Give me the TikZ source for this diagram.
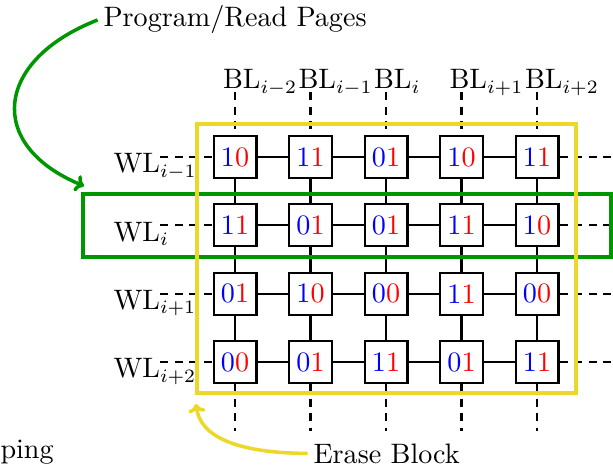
\documentclass[tikz,border=0pt]{standalone}
\usetikzlibrary{arrows.meta}
\definecolor{blockyellow}{RGB}{236,216,40}
\definecolor{pagegreen}{RGB}{0,150,0}
\tikzset{
  cell/.style={draw, line width=0.75pt, minimum width=15.9pt, minimum height=15.5pt, inner sep=0pt, fill=white},
  wire/.style={line width=0.75pt},
  dwire/.style={line width=0.75pt, dash pattern=on 3pt off 2.4pt},
  lbl/.style={inner sep=0pt, anchor=base west},
  frame/.style={line width=1.2pt},
  pointer/.style={line width=1.3pt, -{To[length=3.2pt,width=6.4pt]}},
}
\begin{document}
\begin{tikzpicture}[x=0.37pt,y=-0.37pt, font=\fontsize{10.4}{12.5}\selectfont]
\useasboundingbox (0,0) rectangle (613,467);

% memory cells: first bit blue, second bit red
\foreach \row [count=\r] in {
  {1/0,1/1,0/1,1/0,1/1},
  {1/1,0/1,0/1,1/1,1/0},
  {0/1,1/0,0/0,1/1,0/0},
  {0/0,0/1,1/1,0/1,1/1}} {
  \foreach \a/\b [count=\c] in \row {
    \pgfmathsetmacro{\px}{235+75.5*(\c-1)}
    \pgfmathsetmacro{\py}{157+68.33*(\r-1)}
    \node[cell] (c\r\c) at (\px,\py) {\textcolor{blue}{\a}\textcolor{red}{\b}};
  }
}

% solid word-line and bit-line links between cells
\foreach \r in {1,...,4} {
  \foreach \c [evaluate=\c as \n using int(\c+1)] in {1,...,4} {
    \draw[wire] (c\r\c) -- (c\r\n);
  }
}
\foreach \c in {1,...,5} {
  \foreach \r [evaluate=\r as \n using int(\r+1)] in {1,...,3} {
    \draw[wire] (c\r\c) -- (c\n\c);
  }
}

% dashed bit-line stubs and labels
\foreach \s [count=\c] in {i-2,i-1,i,i+1,i+2} {
  \pgfmathsetmacro{\px}{235+75.5*(\c-1)}
  \coordinate (bt\c) at (\px,92);
  \coordinate (bb\c) at (\px,431);
  \draw[dwire] (bt\c) -- (c1\c.north);
  \draw[dwire] (c4\c.south) -- (bb\c);
  \node[lbl] (bl\c) at (\px-12.5,89) {BL$_{\s}$};
}

% dashed word-line stubs and labels
\foreach \s [count=\r] in {i-1,i,i+1,i+2} {
  \pgfmathsetmacro{\py}{157+68.33*(\r-1)}
  \coordinate (wl\r) at (160,\py);
  \coordinate (wr\r) at (613,\py);
  \draw[dwire] (wl\r) -- (c\r1.west);
  \draw[dwire] (c\r5.east) -- (wr\r);
  \node[lbl] (wlabel\r) at (113,\py+16) {WL$_{\s}$};
}

% page and block outlines
\draw[frame, pagegreen] (83,194) rectangle (611,257);
\draw[frame, blockyellow] (197,124) rectangle (576,393);

% annotations
\node[lbl] (prog) at (103,27) {Program/Read Pages};
\node[lbl] (erase) at (313,463) {Erase Block};
\node[lbl] (ping) at (0,459) {ping};
\coordinate (pagetip) at (84,186);
\coordinate (blocktip) at (196,404);
\draw[pointer, pagegreen] ([xshift=-2pt]prog.west) .. controls (-5,60) and (-15,145) .. (pagetip);
\draw[pointer, blockyellow] ([xshift=-2pt]erase.west) .. controls (235,453) and (200,436) .. (blocktip);
\end{tikzpicture}
\end{document}
